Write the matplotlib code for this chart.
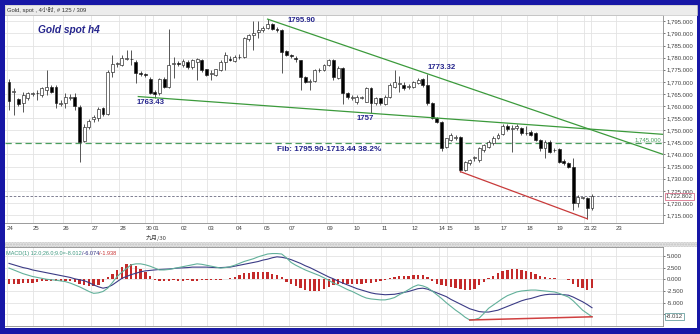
import matplotlib
matplotlib.use("Agg")
import matplotlib.pyplot as plt
import matplotlib.patches as mpatches
import numpy as np

# ---------------- data: Gold spot, 4-hour bars ----------------
opens = [1770.1, 1765.8, 1762.8, 1761.1, 1763.2, 1765.0, 1765.3, 1764.6, 1766.8, 1768.0,
         1768.0, 1761.0, 1761.1, 1763.5, 1763.6, 1759.8, 1745.7, 1751.2, 1754.8, 1755.2,
         1759.2, 1756.8, 1774.2, 1777.2, 1777.0, 1779.5, 1779.6, 1778.0, 1773.8, 1773.0,
         1771.1, 1766.0, 1765.3, 1771.1, 1768.0, 1777.3, 1777.6, 1776.8, 1778.2, 1776.2,
         1778.2, 1778.9, 1775.2, 1773.3, 1773.0, 1774.8, 1778.2, 1779.6, 1778.6, 1780.2,
         1780.3, 1787.7, 1789.4, 1790.4, 1791.3, 1792.3, 1793.7, 1792.0, 1791.3, 1782.6,
         1781.0, 1779.8, 1778.9, 1772.0, 1770.0, 1770.4, 1774.7, 1774.8, 1776.8, 1778.9,
         1771.5, 1775.6, 1765.3, 1763.5, 1761.8, 1763.5, 1761.8, 1767.4, 1761.1, 1763.2,
         1760.9, 1763.9, 1768.0, 1769.3, 1768.7, 1767.9, 1768.0, 1769.4, 1771.1, 1768.7,
         1761.1, 1755.0, 1753.6, 1743.2, 1746.0, 1747.0, 1747.1, 1733.5, 1736.3, 1738.4,
         1737.7, 1741.8, 1743.2, 1744.6, 1746.7, 1748.6, 1751.8, 1750.6, 1750.8, 1750.8,
         1748.8, 1749.4, 1748.7, 1746.0, 1742.5, 1745.3, 1741.7, 1742.2, 1737.4, 1736.3,
         1735.0, 1719.8, 1722.0, 1721.9, 1717.8]
highs = [1771.0, 1767.4, 1763.5, 1766.0, 1766.0, 1766.0, 1766.7, 1768.0, 1774.9, 1768.7,
         1768.7, 1762.5, 1765.3, 1765.0, 1765.5, 1760.5, 1752.5, 1754.5, 1756.5, 1759.5,
         1759.8, 1775.0, 1781.0, 1778.0, 1781.1, 1783.2, 1783.2, 1779.0, 1774.5, 1773.5,
         1771.8, 1766.5, 1771.5, 1772.0, 1791.9, 1780.3, 1778.5, 1779.5, 1779.0, 1779.6,
         1780.0, 1779.6, 1775.5, 1774.8, 1775.5, 1779.0, 1782.5, 1780.5, 1781.0, 1781.5,
         1788.5, 1789.8, 1795.0, 1795.0, 1793.0, 1795.9, 1794.2, 1792.5, 1791.8, 1783.0,
         1781.5, 1780.5, 1779.0, 1772.5, 1771.0, 1775.5, 1775.8, 1777.2, 1779.6, 1779.6,
         1776.5, 1776.0, 1766.0, 1764.5, 1764.6, 1764.0, 1768.0, 1767.8, 1763.8, 1763.5,
         1764.5, 1769.5, 1775.0, 1772.5, 1769.8, 1769.0, 1770.5, 1771.5, 1771.5, 1773.32,
         1761.5, 1755.5, 1754.0, 1747.0, 1748.8, 1748.0, 1747.8, 1737.5, 1738.2, 1739.5,
         1743.0, 1744.5, 1746.0, 1747.5, 1749.0, 1752.5, 1752.5, 1752.0, 1752.5, 1751.5,
         1751.8, 1750.0, 1749.2, 1746.5, 1746.0, 1745.8, 1742.5, 1742.8, 1738.0, 1737.0,
         1738.4, 1723.2, 1722.5, 1722.3, 1723.5]
lows = [1758.4, 1756.3, 1760.0, 1757.7, 1762.5, 1764.0, 1762.5, 1763.6, 1764.6, 1765.3,
        1759.0, 1760.0, 1759.0, 1762.5, 1758.4, 1737.0, 1745.0, 1750.5, 1753.5, 1754.0,
        1756.0, 1756.3, 1772.0, 1776.0, 1776.5, 1779.0, 1777.0, 1769.5, 1772.5, 1772.0,
        1765.0, 1763.43, 1764.5, 1767.5, 1767.5, 1771.5, 1776.5, 1776.0, 1775.5, 1775.5,
        1770.7, 1774.0, 1772.5, 1770.7, 1772.5, 1774.5, 1774.8, 1778.5, 1778.0, 1779.5,
        1780.0, 1787.0, 1783.0, 1788.0, 1790.5, 1791.8, 1791.5, 1790.5, 1773.5, 1780.5,
        1780.0, 1778.0, 1766.5, 1769.5, 1766.5, 1770.0, 1774.0, 1774.5, 1776.5, 1770.7,
        1771.0, 1761.0, 1763.0, 1762.5, 1760.9, 1762.8, 1761.5, 1757.0, 1760.5, 1760.5,
        1760.5, 1763.5, 1767.5, 1766.0, 1766.5, 1767.0, 1767.5, 1769.0, 1768.0, 1760.5,
        1754.5, 1753.0, 1741.5, 1742.5, 1745.5, 1746.0, 1732.9, 1733.0, 1735.5, 1737.5,
        1737.0, 1741.0, 1742.8, 1744.0, 1746.2, 1748.0, 1749.5, 1741.0, 1750.0, 1748.0,
        1748.0, 1747.5, 1745.5, 1741.5, 1738.4, 1740.5, 1741.0, 1736.5, 1735.8, 1734.5,
        1717.1, 1718.5, 1721.5, 1713.44, 1717.0]
closes = [1762.1, 1766.2, 1760.8, 1764.6, 1765.3, 1765.4, 1765.2, 1767.4, 1768.0, 1766.0,
          1761.1, 1761.2, 1763.6, 1763.7, 1760.0, 1745.3, 1751.5, 1754.0, 1755.6, 1758.7,
          1756.8, 1774.2, 1777.4, 1777.6, 1779.7, 1779.9, 1779.3, 1773.6, 1773.4, 1772.8,
          1765.3, 1765.0, 1771.1, 1768.0, 1777.0, 1777.7, 1777.4, 1778.5, 1776.2, 1778.9,
          1779.6, 1774.8, 1773.0, 1773.5, 1775.2, 1778.2, 1781.0, 1778.9, 1780.3, 1780.4,
          1787.9, 1789.2, 1790.3, 1791.3, 1792.3, 1793.7, 1792.0, 1791.3, 1782.4, 1781.0,
          1780.8, 1779.5, 1772.0, 1770.0, 1770.2, 1774.8, 1774.9, 1776.8, 1778.9, 1772.0,
          1775.6, 1765.3, 1763.9, 1763.7, 1763.9, 1763.7, 1767.4, 1761.1, 1763.2, 1761.1,
          1763.9, 1768.7, 1770.1, 1769.5, 1767.4, 1768.1, 1770.1, 1770.8, 1768.7, 1761.1,
          1755.0, 1753.6, 1742.5, 1746.7, 1748.1, 1747.2, 1733.5, 1737.0, 1737.7, 1739.1,
          1742.5, 1743.9, 1745.3, 1746.7, 1748.1, 1751.6, 1750.5, 1750.9, 1751.8, 1748.7,
          1749.0, 1748.1, 1746.0, 1742.5, 1745.3, 1741.2, 1742.0, 1737.0, 1736.3, 1735.0,
          1719.8, 1722.6, 1722.3, 1717.8, 1722.802]

# MACD(12, 26, 9): main line, signal line, histogram
macd_line = [2.4, 2.0, 1.6, 1.2, 0.9, 0.6, 0.4, 0.2, 0.0, -0.1, -0.2, -0.35, -0.5, -0.8, -1.2,
             -1.6, -2.1, -2.6, -3.0, -2.9, -2.6, -1.9, -0.7, 0.6, 1.5, 2.3, 3.1, 3.3, 3.3, 3.1,
             2.8, 2.4, 2.0, 2.0, 2.1, 2.3, 2.5, 2.7, 2.9, 3.1, 3.3, 3.2, 3.0, 2.8, 2.6,
             2.4, 2.5, 2.7, 3.0, 3.4, 3.8, 4.1, 4.4, 4.8, 5.1, 5.4, 5.5, 5.5, 5.4, 4.6,
             3.6, 3.0, 2.5, 2.0, 1.6, 1.2, 0.8, 0.3, -0.2, -0.8, -1.2, -1.7, -2.2, -2.6, -3.1,
             -3.6, -4.0, -4.2, -4.3, -4.4, -4.4, -4.2, -3.9,
             -3.3, -2.8, -2.2, -1.6, -1.2, -1.4, -1.8, -2.5, -3.3, -4.1, -5.0, -5.8, -6.6, -7.3,
             -8.1, -8.7, -8.6, -8.3, -7.3, -6.2, -5.5, -4.8, -4.1, -3.5, -3.1, -2.7, -2.5, -2.4,
             -2.3, -2.3, -2.4, -2.5, -2.6, -2.7, -3.0, -3.4, -3.8, -4.6, -5.6, -6.6, -7.3, -8.012]
signal_line = [3.4, 3.1, 2.8, 2.5, 2.3, 2.0, 1.8, 1.6, 1.4, 1.2, 1.0, 0.8, 0.6, 0.4, 0.1,
               -0.1, -0.3, -0.7, -1.2, -1.6, -1.9, -1.7, -1.2, -0.5, 0.2, 0.6, 1.0, 1.3, 1.6, 1.8,
               1.9, 2.0, 2.1, 2.15, 2.2, 2.3, 2.4, 2.45, 2.5, 2.6, 2.6, 2.6, 2.6, 2.55, 2.5,
               2.5, 2.55, 2.6, 2.8, 3.0, 3.2, 3.4, 3.6, 3.8, 4.1, 4.3, 4.6, 4.8, 4.7, 4.5,
               4.2, 3.8, 3.4, 2.9, 2.5, 2.0, 1.5, 1.0, 0.5, 0.1, -0.4, -0.8, -1.2, -1.6, -2.0,
               -2.3, -2.6, -2.9, -3.1, -3.2, -3.3, -3.25, -3.2,
               -3.0, -2.8, -2.6, -2.3, -2.0, -1.9, -2.1, -2.5, -2.9, -3.3, -3.7, -4.3, -4.8, -5.3,
               -5.8, -6.3, -6.6, -6.9, -7.0, -7.0, -6.8, -6.6, -6.2, -5.8, -5.4, -5.0, -4.6, -4.3,
               -4.1, -3.8, -3.5, -3.3, -3.2, -3.2, -3.2, -3.3, -3.4, -3.8, -4.3, -4.8, -5.4, -6.074]
histogram = [-0.9, -0.95, -0.9, -0.85, -0.8, -0.7, -0.6, -0.4, -0.3, -0.35, -0.3, -0.3, -0.4, -0.45, -0.5,
             -0.9, -1.2, -1.4, -1.5, -1.3, -0.6, 0.4, 1.2, 2.0, 2.7, 3.2, 3.3, 2.9, 2.3, 1.6,
             0.8, -0.2, -0.3, -0.3, -0.3, -0.25, -0.3, -0.3, -0.2, -0.3, -0.3, -0.2, -0.2, -0.25, -0.2,
             -0.1, 0.1, 0.2, 0.4, 0.9, 1.3, 1.4, 1.5, 1.6, 1.6, 1.5, 1.2, 0.9, 0.5,
             -0.6, -1.0, -1.4, -1.8, -2.2, -2.5, -2.6, -2.4, -2.0, -1.6, -1.2, -1.1, -1.0, -1.0, -1.1, -1.0,
             -0.9, -0.8, -0.7, -0.6, -0.4, -0.2, 0.2, 0.4,
             0.6, 0.7, 0.8, 0.9, 1.0, 0.9, 0.5, -0.3, -0.9, -1.3, -1.5, -1.7, -1.9, -2.1, -2.3,
             -2.2, -2.0, -1.3, -0.5, 0.3, 0.8, 1.3, 1.7, 2.0, 2.1, 2.1, 2.0, 1.8, 1.5, 1.2,
             0.8, 0.5, 0.3, 0.2, 0.1, 0.1, -0.1, -1.1, -1.7, -1.8, -2.2, -1.938]

# day boundaries on the bar axis and their labels
day_ticks = [-0.5, 5, 11.5, 17.5, 23.5, 29, 30.6, 36.5, 42.2, 48.3, 54.1, 59.6, 67.5, 73.2,
             79.2, 85.7, 91.4, 93.1, 98.7, 104.6, 110.1, 116.5, 122.2, 123.7, 129.1]
day_labels = ["24", "25", "26", "27", "28", "30", "01", "02", "03", "04", "05", "07", "09", "10",
              "11", "12", "14", "15", "16", "17", "18", "19", "21", "22", "23"]

# swing points used for trend lines
swing_high_a, swing_high_b = 55, 89      # 1795.90 and 1773.32
swing_low_a, swing_low_b = 31, 77        # 1763.43 and 1757
div_low_a, div_low_b = 96, 123           # lower lows for the divergence line
fib_ratio = 0.382

o = np.array(opens); h = np.array(highs); l = np.array(lows); c = np.array(closes)
n = len(c)
x = np.arange(n)

W, H = 700, 334
NAVY = "#24248c"
FONT = "Liberation Sans"

fig = plt.figure(figsize=(W / 100, H / 100), dpi=100)
fig.patch.set_facecolor("#1717a6")

def fx(px):
    return px / W

def fy(py):
    return 1 - py / H

# white working area inside the blue frame
fig.add_artist(mpatches.Rectangle((fx(5), fy(328)), 692 / W, 323 / H, transform=fig.transFigure,
                                  facecolor="white", edgecolor="none", zorder=0))
# title bar
fig.add_artist(mpatches.Rectangle((fx(5), fy(15)), 692 / W, 10 / H, transform=fig.transFigure,
                                  facecolor="#ececec", edgecolor="#c8c8c8", lw=0.5, zorder=1))
fig.text(fx(7), fy(9.8), "Gold, spot , 4小时, # 125 / 309", fontsize=4.2, color="#333333",
         family=[FONT, "Noto Sans CJK SC"], va="center", ha="left", zorder=2)
# splitter between panes
fig.add_artist(mpatches.Rectangle((fx(5), fy(247)), 692 / W, 5 / H, transform=fig.transFigure,
                                  facecolor="#e2e2e2", edgecolor="#c4c4c4", hatch="......",
                                  lw=0, zorder=1))

# ---------------- price pane ----------------
ax = fig.add_axes([fx(5), fy(223), 658 / W, 208 / H])
ax.set_facecolor("white")
ax.set_xlim(-0.85, 139.1)
ax.set_ylim(1711.7, 1797.6)

ax.set_yticks(np.arange(1715, 1800, 5))
ax.set_xticks(day_ticks)
ax.set_xticklabels(day_labels)
ax.grid(True, color="#e3e3e3", lw=0.6, zorder=0)
ax.set_axisbelow(True)
ax.yaxis.tick_right()
ax.yaxis.set_major_formatter(plt.FuncFormatter(lambda v, p: f"{v:,.3f}"))
ax.tick_params(axis="y", labelsize=4.3, colors="#404040", length=1.5, width=0.5, pad=1)
ax.tick_params(axis="x", labelsize=4.3, colors="#404040", length=0, pad=2.2)
for lab in ax.get_xticklabels():
    lab.set_horizontalalignment("left")
for lab in ax.get_xticklabels() + ax.get_yticklabels():
    lab.set_family(FONT)
for side in ("top", "right", "bottom"):
    ax.spines[side].set_color("#8a8a8a")
    ax.spines[side].set_linewidth(0.6)
ax.spines["left"].set_visible(False)

# candles
up = c >= o
ax.vlines(x, l, h, color="#3a3a3a", lw=0.6, zorder=3)
body_low = np.minimum(o, c)
body_h = np.maximum(np.abs(c - o), 0.25)
ax.bar(x, body_h, bottom=body_low, width=0.62,
       color=np.where(up, "white", "black"), edgecolor="#202020", linewidth=0.45, zorder=4)

# trend lines
x_end = ax.get_xlim()[1]
slope_hi = (h[swing_high_b] - h[swing_high_a]) / (swing_high_b - swing_high_a)
ax.plot([swing_high_a, x_end], [h[swing_high_a], h[swing_high_a] + slope_hi * (x_end - swing_high_a)],
        color="#3b9a3b", lw=0.9, zorder=5)
slope_lo = (l[swing_low_b] - l[swing_low_a]) / (swing_low_b - swing_low_a)
x_start = swing_low_a - 3.5
ax.plot([x_start, x_end], [l[swing_low_a] + slope_lo * (x_start - swing_low_a),
                           l[swing_low_a] + slope_lo * (x_end - swing_low_a)],
        color="#3b9a3b", lw=0.9, zorder=5)
ax.plot([div_low_a, div_low_b], [l[div_low_a], l[div_low_b]], color="#c83a3a", lw=0.9, zorder=5)

# Fibonacci retracement level
fib_hi = h[swing_high_a]
fib_lo = l[div_low_b]
fib_level = fib_lo + fib_ratio * (fib_hi - fib_lo)
ax.axhline(fib_level, color="#4a9f5e", lw=0.9, ls=(0, (5, 3)), zorder=2)
ax.annotate(f"{round(fib_level):,.3f}", xy=(1, fib_level), xycoords=("axes fraction", "data"),
            xytext=(-2, 3), textcoords="offset pixels", ha="right", va="center",
            fontsize=4.3, color="#4a9f5e", family=FONT)
ax.annotate(f"Fib: {fib_hi:.2f}-{fib_lo:.2f} {fib_ratio * 100:.1f}%", xy=(57, fib_level),
            xytext=(0, -6.5), textcoords="offset pixels", ha="left", va="center",
            fontsize=5.9, fontweight="bold", color=NAVY, family=FONT)

# last price line and tag
last = c[-1]
ax.axhline(last, color="#6a6a80", lw=0.6, ls=(0, (3, 2)), zorder=2)
ax.annotate(f"{last:,.3f}", xy=(1, last), xycoords=("axes fraction", "data"),
            xytext=(3, 0), textcoords="offset pixels", ha="left", va="center",
            fontsize=4.3, color="#404040", family=FONT, annotation_clip=False,
            bbox=dict(boxstyle="square,pad=0.15", fc="white", ec="#d8708a", lw=0.6))

# swing labels
label_kw = dict(textcoords="offset pixels", ha="left", va="center", fontsize=5.6,
                fontweight="bold", color=NAVY, family=FONT)
ax.annotate(f"{h[swing_high_a]:.2f}", xy=(swing_high_a, h[swing_high_a]), xytext=(19.5, -1.3), **label_kw)
ax.annotate(f"{h[swing_high_b]:.2f}", xy=(swing_high_b, h[swing_high_b]), xytext=(0, 5.9), **label_kw)
ax.annotate(f"{l[swing_low_a]:.2f}", xy=(swing_low_a, l[swing_low_a]), xytext=(-17.7, -5.2), **label_kw)
ax.annotate(f"{l[swing_low_b]:.0f}", xy=(swing_low_b, l[swing_low_b]), xytext=(-14, -5.6), **label_kw)

ax.text(0.05, 0.928, "Gold spot h4", transform=ax.transAxes, fontsize=7.3, fontweight="bold",
        style="italic", color=NAVY, family=FONT, va="center", ha="left")

# month caption under the "30" tick
ax.annotate("九月/30", xy=(day_ticks[5], 0), xycoords=("data", "axes fraction"),
            xytext=(0, -15), textcoords="offset pixels", ha="left", va="center",
            fontsize=4.3, color="#404040", family=["Noto Sans CJK SC", FONT], annotation_clip=False)

# ---------------- MACD pane ----------------
ax2 = fig.add_axes([fx(5), fy(326), 658 / W, 79 / H])
ax2.set_xlim(ax.get_xlim())
ax2.set_ylim(-9.98, 6.9)
ax2.set_xticks(day_ticks)
ax2.set_xticklabels([])
macd_ticks = [5, 2.5, 0, -2.5, -5, -7.5]
ax2.set_yticks(macd_ticks)
# the lowest level sits behind the current-value tag, so it carries no text
ax2.set_yticklabels([f"{v:.3f}" if v > -7 else "" for v in macd_ticks])
ax2.grid(True, color="#e3e3e3", lw=0.6, zorder=0)
ax2.set_axisbelow(True)
ax2.yaxis.tick_right()
ax2.tick_params(axis="y", labelsize=4.3, colors="#404040", length=1.5, width=0.5, pad=1)
ax2.tick_params(axis="x", length=0)
for lab in ax2.get_yticklabels():
    lab.set_family(FONT)
for side in ("top", "right", "bottom"):
    ax2.spines[side].set_color("#8a8a8a")
    ax2.spines[side].set_linewidth(0.6)
ax2.spines["left"].set_visible(False)

m = np.array(macd_line); s = np.array(signal_line); hist = np.array(histogram)
ax2.bar(x, hist, width=0.5, color="#c42a2a", zorder=3)
ax2.plot(x, s, color="#3b3b85", lw=0.8, zorder=4)
ax2.plot(x, m, color="#62b09a", lw=0.8, zorder=4)
m_low = div_low_a + int(np.argmin(m[div_low_a:]))
ax2.plot([m_low, n - 1], [m[m_low], m[-1]], color="#d04040", lw=1.1, zorder=5)

ax2.annotate(f"{m[-1]:.3f}", xy=(1, m[-1]), xycoords=("axes fraction", "data"),
             xytext=(3, 0), textcoords="offset pixels", ha="left", va="center",
             fontsize=4.3, color="#404040", family=FONT, annotation_clip=False,
             bbox=dict(boxstyle="square,pad=0.2", fc="white", ec="#6aa0a0", lw=0.6))

t1 = ax2.text(0.002, 0.955, f"MACD(1) 12.0;26.0;9.0={m[-1]:.3f}", transform=ax2.transAxes,
              fontsize=4.0, color="#3f9a80", family=FONT, ha="left", va="top")
t2 = ax2.annotate(f"/{s[-1]:.3f}", xy=(1, 0), xycoords=t1, ha="left", va="bottom",
                  fontsize=4.0, color="#2c2c80", family=FONT)
ax2.annotate(f"/{hist[-1]:.3f}", xy=(1, 0), xycoords=t2, ha="left", va="bottom",
             fontsize=4.0, color="#c83030", family=FONT)

fig.savefig("out.png", dpi=100, facecolor=fig.get_facecolor())
